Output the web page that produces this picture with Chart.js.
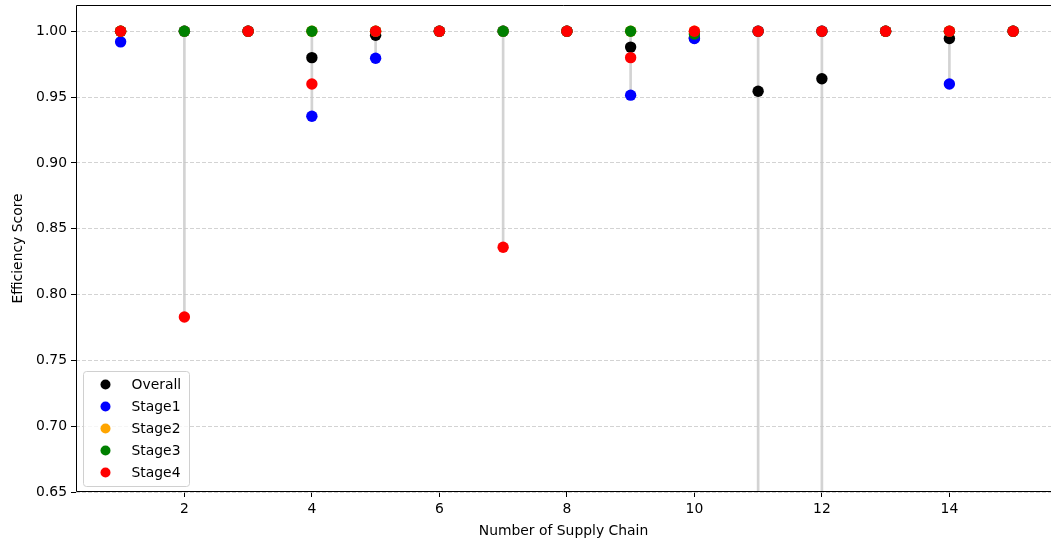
<!DOCTYPE html>
<html>
<head>
<meta charset="utf-8">
<script src="https://cdn.jsdelivr.net/npm/chart.js@4/dist/chart.umd.min.js"></script>
<style>
  html, body { margin: 0; padding: 0; background: #fff; overflow: hidden; }
  #wrap { width: 1051px; height: 545px; }
</style>
</head>
<body>
<div id="wrap"><canvas id="myChart" width="1051" height="545"></canvas></div>
<script>
const chains = [1, 2, 3, 4, 5, 6, 7, 8, 9, 10, 11, 12, 13, 14, 15];
const overall = [1.0, 1.0, 1.0, 0.980, 0.997, 1.0, 1.0, 1.0, 0.988, 0.995, 0.9545, 0.964, 1.0, 0.9945, 1.0];
const stage1 = [0.992, 1.0, 1.0, 0.9355, 0.9795, 1.0, 1.0, 1.0, 0.9515, 0.9945, 1.0, 1.0, 1.0, 0.960, 1.0];
const stage2 = [1.0, 1.0, 1.0, 1.0, 1.0, 1.0, 1.0, 1.0, 1.0, 1.0, 0.55, 0.60, 1.0, 1.0, 1.0];
const stage3 = [1.0, 1.0, 1.0, 1.0, 1.0, 1.0, 1.0, 1.0, 1.0, 0.998, 1.0, 1.0, 1.0, 1.0, 1.0];
const stage4 = [1.0, 0.783, 1.0, 0.960, 1.0, 1.0, 0.836, 1.0, 0.980, 1.0, 1.0, 1.0, 1.0, 1.0, 1.0];

const seriesNames = ['Overall', 'Stage1', 'Stage2', 'Stage3', 'Stage4'];
const seriesColors = ['black', 'blue', 'orange', 'green', 'red'];
const allSeries = [overall, stage1, stage2, stage3, stage4];

const xTicks = [2, 4, 6, 8, 10, 12, 14];
const yTicks = [0.65, 0.70, 0.75, 0.80, 0.85, 0.90, 0.95, 1.00];

const FONT = 'DejaVu Sans';

// grey range line for each chain, from its lowest to its highest score
const ranges = chains.map((c, i) => {
  const vals = allSeries.map((s) => s[i]);
  return { x: c, y: [Math.min(...vals), Math.max(...vals)] };
});

const datasets = allSeries.map((s, k) => ({
  label: seriesNames[k],
  data: chains.map((c, i) => ({ x: c, y: s[i] })),
  backgroundColor: seriesColors[k],
  borderWidth: 0,
  pointRadius: 5.7,
  pointHoverRadius: 5.7,
  order: 4 - k,
}));

datasets.push({
  type: 'bar',
  label: 'range',
  data: ranges,
  backgroundColor: 'rgba(200,200,200,0.8)',
  barThickness: 2,
  grouped: false,
  order: 10,
});

// left, top and bottom spines (the right one falls outside the picture)
const frame = {
  id: 'frame',
  afterDatasetsDraw(chart) {
    const { ctx, chartArea } = chart;
    const l = chartArea.left + 0.5;
    const t = chartArea.top + 0.5;
    const b = chartArea.bottom - 0.5;
    ctx.save();
    ctx.strokeStyle = '#000';
    ctx.lineWidth = 1;
    ctx.beginPath();
    ctx.moveTo(chartArea.right, t);
    ctx.lineTo(l, t);
    ctx.lineTo(l, b);
    ctx.lineTo(chartArea.right, b);
    ctx.stroke();
    ctx.restore();
  },
};

const legendBox = {
  id: 'legendBox',
  afterDraw(chart) {
    const { ctx, chartArea } = chart;
    const rowH = 22;
    const w = 106;
    const h = 115;
    const x0 = chartArea.left + 7.5;
    const y0 = chartArea.bottom - 6 - h + 0.5;
    ctx.save();
    ctx.beginPath();
    ctx.roundRect(x0, y0, w, h, 3);
    ctx.fillStyle = 'rgba(255,255,255,0.8)';
    ctx.fill();
    ctx.strokeStyle = '#d0d0d0';
    ctx.lineWidth = 1;
    ctx.stroke();
    ctx.font = '13.9px "' + FONT + '"';
    ctx.textBaseline = 'middle';
    seriesNames.forEach((name, i) => {
      const cy = y0 + 13 + i * rowH;
      ctx.beginPath();
      ctx.arc(x0 + 22, cy, 5, 0, Math.PI * 2);
      ctx.fillStyle = seriesColors[i];
      ctx.fill();
      ctx.fillStyle = '#000';
      ctx.fillText(name, x0 + 48, cy + 1);
    });
    ctx.restore();
  },
};

new Chart(document.getElementById('myChart'), {
  type: 'scatter',
  data: { datasets: datasets },
  options: {
    responsive: false,
    animation: false,
    devicePixelRatio: 1,
    layout: { autoPadding: false, padding: { top: 5, right: 0, left: 0, bottom: 0 } },
    plugins: {
      legend: { display: false },
      tooltip: { enabled: false },
    },
    scales: {
      x: {
        type: 'linear',
        min: 0.3,
        max: 15.594,
        offset: false,
        grid: {
          offset: false,
          drawOnChartArea: false,
          drawTicks: true,
          tickLength: 5,
          tickColor: '#000',
          tickWidth: 1,
        },
        border: { display: false },
        afterBuildTicks: (scale) => { scale.ticks = xTicks.map((v) => ({ value: v })); },
        afterFit: (scale) => { scale.height = 53; scale.paddingLeft = 0; scale.paddingRight = 0; },
        ticks: {
          color: '#000',
          padding: 4,
          font: { family: FONT, size: 13.9 },
          callback: (v) => String(v),
        },
        title: {
          display: true,
          text: 'Number of Supply Chain',
          color: '#000',
          font: { family: FONT, size: 13.9 },
          padding: { top: 2, bottom: 5 },
        },
      },
      y: {
        type: 'linear',
        min: 0.65,
        max: 1.02,
        beginAtZero: false,
        grid: {
          color: 'rgba(200,200,200,0.8)',
          lineWidth: 1,
          drawTicks: true,
          tickLength: 5,
          tickColor: '#000',
          tickWidth: 1,
          tickBorderDash: [],
        },
        border: { display: false, dash: [4, 2] },
        afterBuildTicks: (scale) => { scale.ticks = yTicks.map((v) => ({ value: v })); },
        afterFit: (scale) => { scale.width = 76; scale.paddingTop = 0; scale.paddingBottom = 0; },
        ticks: {
          color: '#000',
          padding: 4,
          font: { family: FONT, size: 13.9 },
          callback: (v) => v.toFixed(2),
        },
        title: {
          display: true,
          text: 'Efficiency Score',
          color: '#000',
          font: { family: FONT, size: 13.9 },
          padding: { top: 10, bottom: 4 },
        },
      },
    },
  },
  plugins: [frame, legendBox],
});
</script>
</body>
</html>
